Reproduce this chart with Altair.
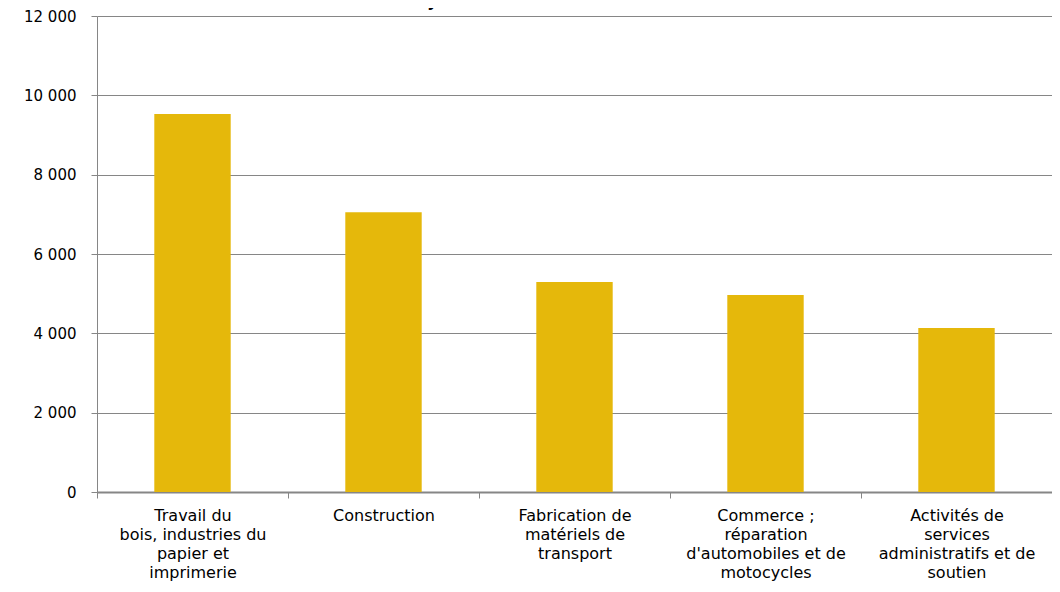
import altair as alt
import pandas as pd

categories = [
    "Travail du\nbois, industries du\npapier et\nimprimerie",
    "Construction",
    "Fabrication de\nmatériels de\ntransport",
    "Commerce ;\nréparation\nd'automobiles et de\nmotocycles",
    "Activités de\nservices\nadministratifs et de\nsoutien",
]
values = [9530, 7055, 5295, 4965, 4135]
y_ticks = [0, 2000, 4000, 6000, 8000, 10000, 12000]
title_text = "de janvier à novembre 2014"

df = pd.DataFrame({"cat": categories, "val": values})

GRAY = "#868686"
FONT = "DejaVu Sans"

bars = alt.Chart(df).mark_bar(color="#E5B80B", width=alt.RelativeBandSize(0.4)).encode(
    x=alt.X(
        "cat:N",
        sort=None,
        title=None,
        scale=alt.Scale(paddingInner=0, paddingOuter=0),
        axis=alt.Axis(
            labelAngle=0,
            labelExpr="split(datum.label, '\\n')",
            labelLineHeight=19,
            labelFontSize=16,
            labelFont=FONT,
            labelColor="#000000",
            labelAlign="center",
            labelBaseline="top",
            labelPadding=9,
            labelLimit=400,
            labelOverlap=False,
            tickBand="extent",
            tickSize=6,
            tickColor=GRAY,
            tickWidth=1,
            domainColor=GRAY,
            domainWidth=2,
            grid=False,
        ),
    ),
    y=alt.Y(
        "val:Q",
        title=None,
        scale=alt.Scale(domain=[0, 12000], nice=False),
        axis=alt.Axis(
            values=y_ticks,
            labelExpr="replace(format(datum.value, ','), ',', ' ')",
            labelFontSize=15,
            labelFont=FONT,
            labelColor="#000000",
            labelPadding=15,
            tickSize=6,
            tickColor=GRAY,
            domainColor=GRAY,
            domainWidth=1,
            grid=True,
            gridColor=GRAY,
            gridWidth=1,
        ),
    ),
)

title = alt.Chart(pd.DataFrame({"t": [title_text]})).mark_text(
    fontSize=25, font=FONT, baseline="alphabetic", align="center", color="#000000"
).encode(text="t:N", x=alt.value(470), y=alt.value(-11))

chart = alt.layer(bars, title).properties(
    width=955,
    height=476,
    autosize=alt.AutoSizeParams(type="none"),
    padding={"left": 89, "top": 8, "right": 0, "bottom": 92},
).configure_view(stroke=None)

chart.save("out.html", embed_options={"renderer": "svg", "actions": False})
